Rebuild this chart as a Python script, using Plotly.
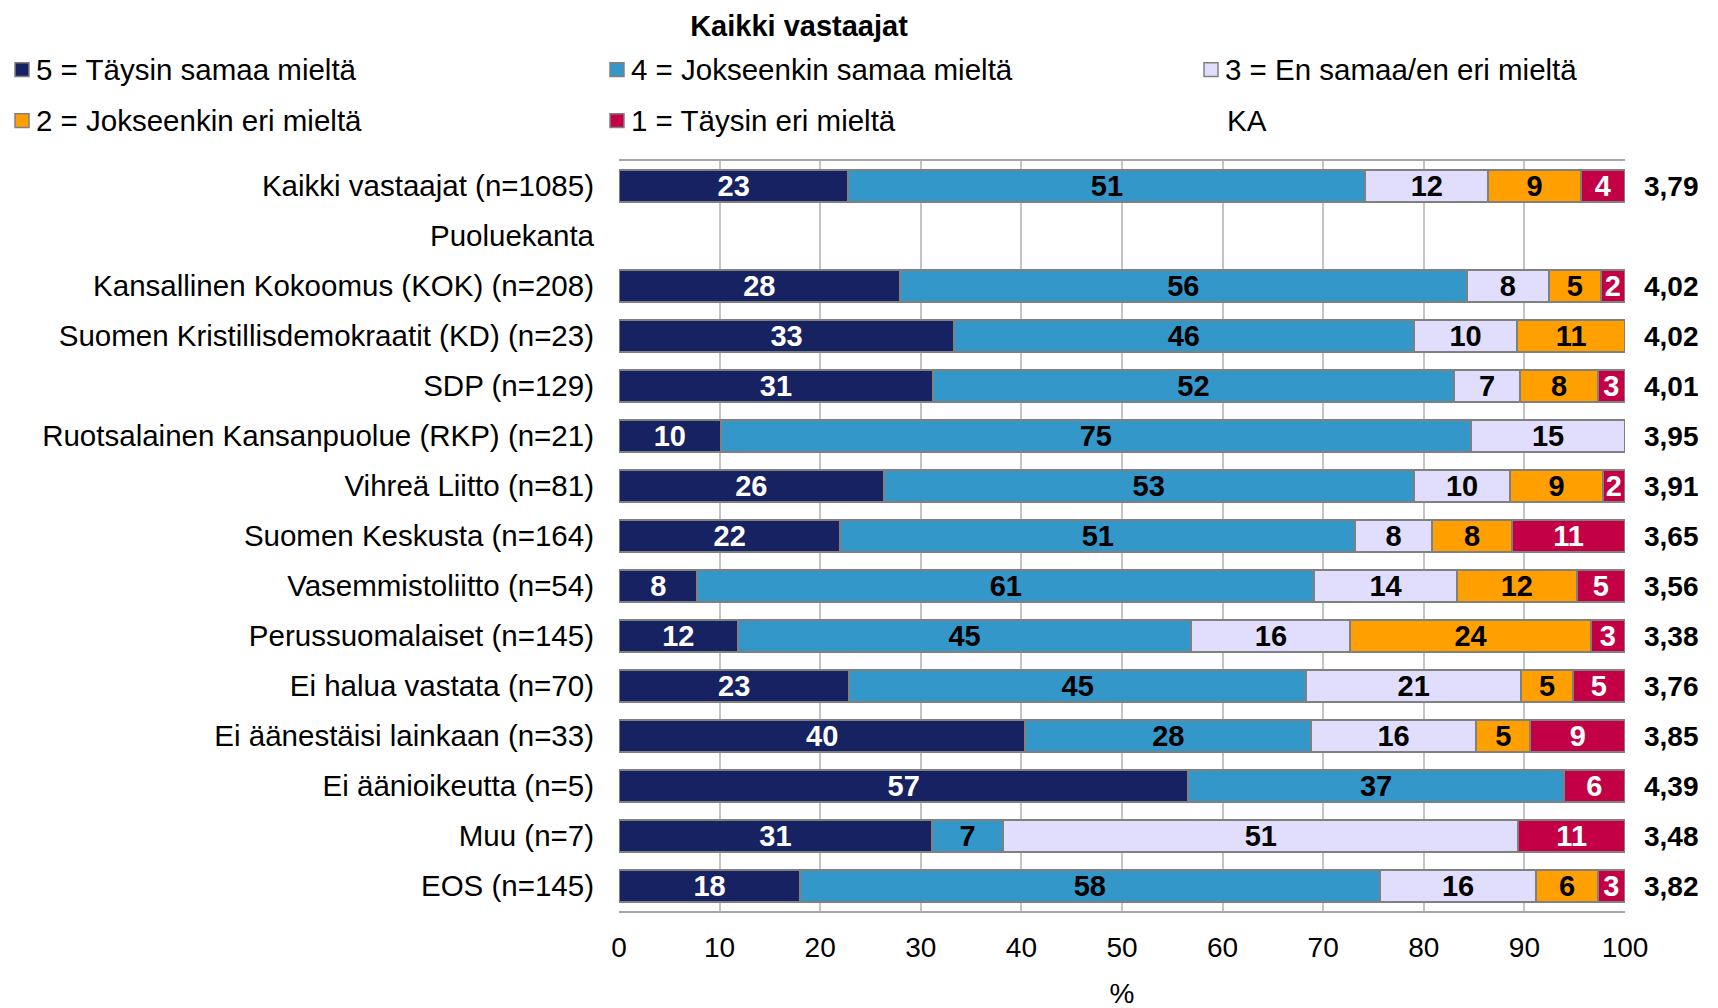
import plotly.graph_objects as go

# Categories (top to bottom)
categories = [
    "Kaikki vastaajat (n=1085)",
    "Puoluekanta",
    "Kansallinen Kokoomus (KOK) (n=208)",
    "Suomen Kristillisdemokraatit (KD) (n=23)",
    "SDP (n=129)",
    "Ruotsalainen Kansanpuolue (RKP) (n=21)",
    "Vihreä Liitto (n=81)",
    "Suomen Keskusta (n=164)",
    "Vasemmistoliitto (n=54)",
    "Perussuomalaiset (n=145)",
    "Ei halua vastata (n=70)",
    "Ei äänestäisi lainkaan (n=33)",
    "Ei äänioikeutta (n=5)",
    "Muu (n=7)",
    "EOS (n=145)",
]

# Shares in % (None = heading row without bars)
taysin_samaa = [22.8, None, 27.9, 33.3, 31.2, 10.1, 26.3, 22.0, 7.8, 11.8, 22.9, 40.4, 56.6, 31.1, 18.0]
jokseenkin_samaa = [51.4, None, 56.4, 45.7, 51.8, 74.6, 52.7, 51.2, 61.3, 45.1, 45.4, 28.4, 37.3, 7.1, 57.6]
en_samaa_en_eri = [12.2, None, 8.1, 10.3, 6.6, 15.3, 9.6, 7.6, 14.2, 15.8, 21.4, 16.4, 0, 51.2, 15.6]
jokseenkin_eri = [9.2, None, 5.2, 10.7, 7.7, 0, 9.2, 8.0, 11.9, 23.9, 5.1, 5.4, 0, 0, 6.1]
taysin_eri = [4.4, None, 2.4, 0, 2.7, 0, 2.2, 11.2, 4.8, 3.4, 5.2, 9.4, 6.1, 10.6, 2.7]

# Mean (KA)
ka = [3.79, None, 4.02, 4.02, 4.01, 3.95, 3.91, 3.65, 3.56, 3.38, 3.76, 3.85, 4.39, 3.48, 3.82]

series_names = [
    "5 = Täysin samaa mieltä",
    "4 = Jokseenkin samaa mieltä",
    "3 = En samaa/en eri mieltä",
    "2 = Jokseenkin eri mieltä",
    "1 = Täysin eri mieltä",
]
series_values = [taysin_samaa, jokseenkin_samaa, en_samaa_en_eri, jokseenkin_eri, taysin_eri]
colors = ["#172262", "#3497c9", "#e0defc", "#ffa000", "#c30046"]
text_colors = ["white", "black", "black", "black", "white"]

FONT = "Liberation Sans, Arial, sans-serif"
W, H = 1718, 1008
L, R, T, B = 611, 101, 153, 92

fig = go.Figure()

for name, vals, col, tcol in zip(series_names, series_values, colors, text_colors):
    xs = [v if v else None for v in vals]
    labels = [f"{v:.0f}" if v else "" for v in vals]
    fig.add_trace(go.Bar(
        y=categories, x=xs, orientation="h", name=name,
        marker=dict(color=col, line=dict(color="#808080", width=2)),
        text=labels, textposition="inside", insidetextanchor="middle",
        textangle=0, constraintext="none",
        textfont=dict(family=FONT, size=29, color=tcol, weight="bold"),
        showlegend=False, hoverinfo="x+y+name",
    ))

# KA column to the right of the plot
for cat, v in zip(categories, ka):
    if v is None:
        continue
    fig.add_annotation(
        x=1, xref="paper", xanchor="left", xshift=17,
        y=cat, yref="y", yanchor="middle",
        text=f"{v:.2f}".replace(".", ","), showarrow=False,
        font=dict(family=FONT, size=28, color="black", weight="bold"),
    )

# Manual legend (3 columns, 2 rows)
pw = W - L - R
ph = H - T - B


def px_x(px):
    return (px - L) / pw


def px_y(py):
    return 1 - (py - T) / ph


legend_cols = [7, 602, 1196]
legend_rows = [60, 112]
entries = list(zip(series_names, colors)) + [("KA", None)]
for i, (name, col) in enumerate(entries):
    cx = legend_cols[i % 3]
    cy = legend_rows[i // 3]
    if col is not None:
        fig.add_shape(
            type="rect", xref="paper", yref="paper",
            x0=px_x(cx), x1=px_x(cx + 14), y0=px_y(cy + 7), y1=px_y(cy - 7),
            fillcolor=col, line=dict(color="#808080", width=1.5),
        )
        tx = cx + 19
    else:
        tx = cx + 21
    fig.add_annotation(
        x=px_x(tx), xref="paper", xanchor="left",
        y=px_y(cy), yref="paper", yanchor="middle",
        text=name, showarrow=False,
        font=dict(family=FONT, size=29.5, color="black"),
    )

fig.update_layout(
    width=W, height=H,
    barmode="stack", bargap=0.36,
    plot_bgcolor="white", paper_bgcolor="white",
    margin=dict(l=L, r=R, t=T, b=B),
    font=dict(family=FONT, size=28, color="black"),
    title=dict(
        text="<b>Kaikki vastaajat</b>", x=791 / W, xanchor="center",
        y=1 - 18 / H, yanchor="middle", yref="container",
        font=dict(family=FONT, size=29, color="black"),
    ),
    xaxis=dict(
        range=[0, 100], dtick=10, tick0=0,
        showgrid=True, gridcolor="#c4c4c4", gridwidth=1.5,
        showline=True, mirror=True, linecolor="#a6a6a6", linewidth=2,
        zeroline=False, ticks="", ticklabelstandoff=10,
        tickfont=dict(family=FONT, size=28, color="black"),
        title=dict(text="%", standoff=22, font=dict(family=FONT, size=28, color="black")),
    ),
    yaxis=dict(
        categoryorder="array", categoryarray=categories,
        autorange="reversed", showgrid=False, ticks="",
        ticklabelstandoff=24,
        tickfont=dict(family=FONT, size=29.5, color="black"),
    ),
)

fig.write_html("out.html")
